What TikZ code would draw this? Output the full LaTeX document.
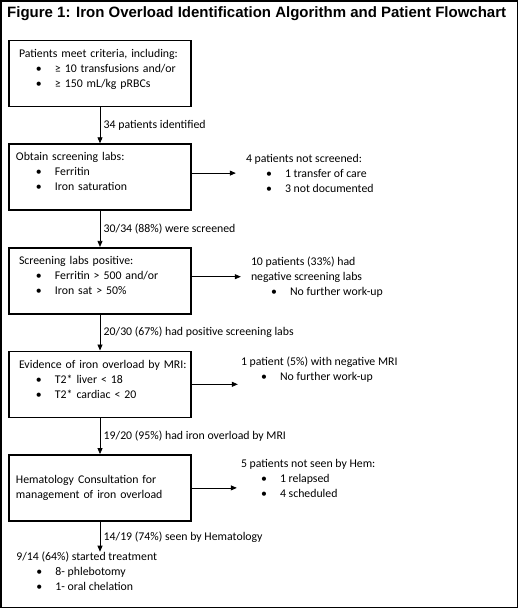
\documentclass[tikz,border=0pt]{standalone}
\usepackage{fontspec}
\setmainfont{Carlito}
\newfontfamily\headfont{Liberation Sans}
\usetikzlibrary{arrows.meta,positioning}
\newcommand{\itm}[1]{\hspace*{20pt}\makebox[19pt][l]{\textbullet}#1}

\begin{document}
\begin{tikzpicture}[
    x=1pt, y=1pt,
    node distance=36pt,
    font=\fontsize{11.8}{15}\selectfont,
    box/.style={rectangle, draw, line width=1.6pt, text width=168pt, inner xsep=7pt, inner ysep=0pt, minimum height=66pt, align=left},
    boxlift/.style={box, text depth=40.6pt},
    side/.style={align=left, inner xsep=10pt, inner ysep=0pt},
    plain/.style={align=left, inner xsep=3.5pt, inner ysep=0pt},
    arrow/.style={-{Triangle[length=6pt,width=5pt]}, line width=0.8pt}
]
    \useasboundingbox (0,0) rectangle (520,-610);
    \draw[line width=1.5pt] (1,-1) rectangle (517.5,-607.5);
    \node[anchor=base west, inner sep=0pt, font=\headfont\bfseries\fontsize{15}{18}\selectfont] (title) at (7,-17.5) {Figure 1: Iron Overload Identification Algorithm and Patient Flowchart};

    \node[boxlift] (crit) at (100,-73.5) {\hspace*{3pt}Patients meet criteria, including:\\ \itm{≥ 10 transfusions and/or}\\ \itm{≥ 150 mL/kg pRBCs}};
    \node[boxlift, below=of crit] (labs) {Obtain screening labs:\\ \itm{Ferritin}\\ \itm{Iron saturation}};
    \node[boxlift, below=of labs] (pos) {\hspace*{3pt}Screening labs positive:\\ \itm{Ferritin > 500 and/or}\\ \itm{Iron sat > 50\%}};
    \node[boxlift, below=of pos] (mri) {\mbox{\hspace*{3pt}Evidence of iron overload by MRI:}\\ \itm{T2* liver < 18}\\ \itm{T2* cardiac < 20}};
    \node[box, below=of mri] (hem) {Hematology Consultation for\\ management of iron overload};
    \node[plain, below right=30pt and 4.5pt of hem.south west] (treat) {9/14 (64\%) started treatment\\ \itm{8- phlebotomy}\\ \itm{1- oral chelation}};

    \node[side, right=44pt of labs, yshift=4pt] (notscr) {4 patients not screened:\\ \itm{1 transfer of care}\\ \itm{3 not documented}};
    \node[side, right=49pt of pos, yshift=4pt] (negscr) {10 patients (33\%) had\\ negative screening labs\\ \itm{No further work-up}};
    \node[side, inner xsep=3pt, right=46pt of mri, yshift=15pt] (negmri) {1 patient (5\%) with negative MRI\\ \itm{No further work-up}};
    \node[side, inner xsep=4pt, right=45pt of hem, yshift=9pt] (nothem) {5 patients not seen by Hem:\\ \itm{1 relapsed}\\ \itm{4 scheduled}};

    \draw[arrow] (crit) -- (labs) node[midway,right] {34 patients identified};
    \draw[arrow] (labs) -- (pos) node[midway,right] {30/34 (88\%) were screened};
    \draw[arrow] (pos) -- (mri) node[midway,right] {20/30 (67\%) had positive screening labs};
    \draw[arrow] (mri) -- (hem) node[midway,right] {19/20 (95\%) had iron overload by MRI};
    \draw[arrow] (hem.south) -- (hem.south |- treat.north) node[midway,right] {14/19 (74\%) seen by Hematology};

    \draw[arrow] (labs.east |- notscr) -- (notscr);
    \draw[arrow] (pos.east |- negscr) -- (negscr);
    \draw[arrow] (mri) -- (mri -| negmri.west);
    \draw[arrow] (hem) -- (hem -| nothem.west);
\end{tikzpicture}
\end{document}
